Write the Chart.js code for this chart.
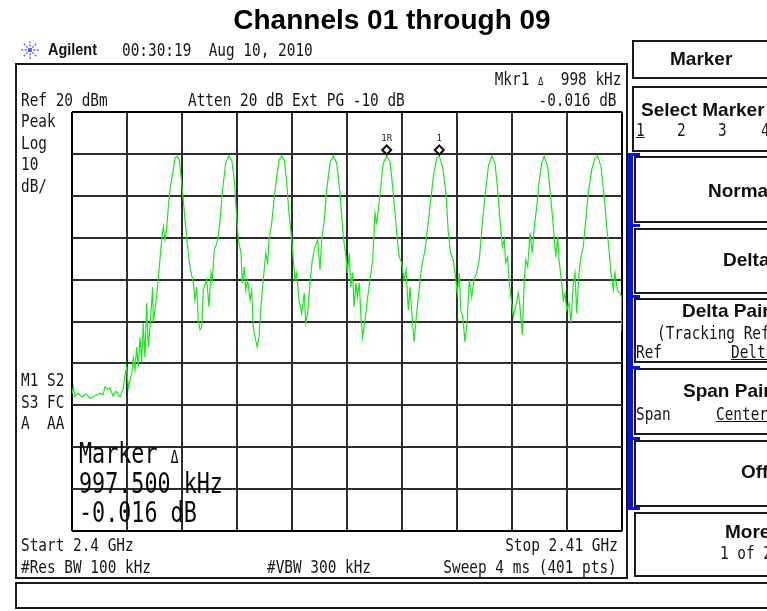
<!DOCTYPE html>
<html><head><meta charset="utf-8">
<script src="https://cdn.jsdelivr.net/npm/chart.js@4.4.1/dist/chart.umd.min.js"></script>
<style>
html,body{margin:0;padding:0;background:#fff;}
body{width:767px;height:611px;overflow:hidden;position:relative;}
canvas{position:absolute;left:0;top:0;}
.t{position:absolute;white-space:pre;font-family:"DejaVu Sans Mono",monospace;font-size:18px;line-height:18px;color:#151515;transform-origin:0 0;transform:scaleX(0.8);}
.tr{transform-origin:100% 0;}
.big{font-size:27.5px;line-height:27.5px;transform:scaleX(0.79);color:#0a0a0a;}
.d{font-size:62%;}
.b{position:absolute;white-space:pre;font-family:"Liberation Sans",Arial,sans-serif;font-weight:bold;font-size:19px;line-height:19px;color:#111;}
.u{text-decoration:underline;}
.box{position:absolute;border:2px solid #1a1a1a;box-sizing:border-box;}
.blue{position:absolute;background:#0a14e6;}
</style></head>
<body>
<canvas id="c" width="767" height="611"></canvas>

<div class="b" style="left:0;width:784px;text-align:center;top:5.6px;font-size:28px;line-height:28px;color:#000;">Channels 01 through 09</div>

<svg width="24" height="22" style="position:absolute;left:18px;top:39px" viewBox="0 0 24 22">
 <g stroke="#5a64ff" stroke-width="1.4" stroke-dasharray="2 1.4" fill="none">
  <line x1="12" y1="11" x2="12" y2="1"/><line x1="12" y1="11" x2="12" y2="21"/>
  <line x1="12" y1="11" x2="2" y2="11"/><line x1="12" y1="11" x2="22" y2="11"/>
  <line x1="12" y1="11" x2="5" y2="4"/><line x1="12" y1="11" x2="19" y2="18"/>
  <line x1="12" y1="11" x2="19" y2="4"/><line x1="12" y1="11" x2="5" y2="18"/>
 </g>
 <rect x="10" y="9" width="4" height="4" fill="#5a64ff"/>
</svg>
<div class="b" style="left:48px;top:41.2px;font-size:17px;line-height:17px;transform:scaleX(0.85);transform-origin:0 0;">Agilent</div>
<div class="t" style="left:122px;top:40.6px;">00:30:19  Aug 10, 2010</div>

<!-- main screen frame -->
<div class="box" style="left:15px;top:63px;width:613px;height:516px;"></div>
<div class="box" style="left:15px;top:582px;width:770px;height:27px;"></div>

<div class="t tr" style="right:146px;top:69.6px;">Mkr1 <span class="d">Δ</span>  998 kHz</div>
<div class="t" style="left:21px;top:91px;">Ref 20 dBm</div>
<div class="t" style="left:188px;top:91px;">Atten 20 dB Ext PG -10 dB</div>
<div class="t tr" style="right:150px;top:91px;">-0.016 dB</div>
<div class="t" style="left:21px;top:112.3px;">Peak</div>
<div class="t" style="left:21px;top:133.8px;">Log</div>
<div class="t" style="left:21px;top:155.3px;">10</div>
<div class="t" style="left:21px;top:176.8px;">dB/</div>
<div class="t" style="left:21px;top:371.3px;">M1 S2</div>
<div class="t" style="left:21px;top:392.8px;">S3 FC</div>
<div class="t" style="left:21px;top:413.8px;">A  AA</div>
<div class="t big" style="left:79px;top:439.7px;">Marker <span class="d">Δ</span></div>
<div class="t big" style="left:79px;top:469.7px;">997.500 kHz</div>
<div class="t big" style="left:79px;top:499.2px;">-0.016 dB</div>
<div class="t" style="left:21px;top:536.3px;">Start 2.4 GHz</div>
<div class="t tr" style="right:149px;top:536.3px;">Stop 2.41 GHz</div>
<div class="t" style="left:21px;top:557.8px;">#Res BW 100 kHz</div>
<div class="t" style="left:267px;top:557.8px;">#VBW 300 kHz</div>
<div class="t tr" style="right:150px;top:558px;">Sweep 4 ms (401 pts)</div>

<!-- softkey panel -->
<div class="box" style="left:632px;top:40px;width:160px;height:39px;"></div>
<div class="box" style="left:632px;top:86px;width:160px;height:66px;"></div>
<div class="box" style="left:634px;top:156px;width:160px;height:67px;"></div>
<div class="box" style="left:634px;top:228px;width:160px;height:66px;"></div>
<div class="box" style="left:634px;top:298px;width:160px;height:65px;"></div>
<div class="box" style="left:634px;top:368px;width:160px;height:67px;"></div>
<div class="box" style="left:634px;top:440px;width:160px;height:67px;"></div>
<div class="box" style="left:634px;top:512px;width:160px;height:65px;"></div>
<div class="blue" style="left:628px;top:153px;width:5px;height:357px;"></div>
<div class="blue" style="left:628px;top:153px;width:12px;height:3px;"></div>
<div class="blue" style="left:628px;top:224px;width:12px;height:3px;"></div>
<div class="blue" style="left:628px;top:295px;width:12px;height:3px;"></div>
<div class="blue" style="left:628px;top:366px;width:12px;height:3px;"></div>
<div class="blue" style="left:628px;top:437px;width:12px;height:3px;"></div>
<div class="blue" style="left:628px;top:507px;width:12px;height:3px;"></div>

<div class="b" style="left:670px;top:48.7px;">Marker</div>
<div class="b" style="left:641px;top:99.7px;">Select Marker</div>
<div class="t u" style="left:636px;top:121.3px;">1</div>
<div class="t" style="left:677px;top:121.3px;">2</div>
<div class="t" style="left:718px;top:121.3px;">3</div>
<div class="t" style="left:761px;top:121.3px;">4</div>
<div class="b" style="left:708px;top:180.7px;">Normal</div>
<div class="b" style="left:723px;top:250.2px;">Delta</div>
<div class="b" style="left:682px;top:301.2px;">Delta Pair</div>
<div class="t" style="left:657px;top:324.3px;">(Tracking Ref)</div>
<div class="t" style="left:636px;top:343.3px;">Ref</div>
<div class="t u" style="left:731px;top:343.3px;">Delta</div>
<div class="b" style="left:683px;top:381.2px;">Span Pair</div>
<div class="t" style="left:636px;top:405.3px;">Span</div>
<div class="t u" style="left:716px;top:405.3px;">Center</div>
<div class="b" style="left:741px;top:461.7px;">Off</div>
<div class="b" style="left:725px;top:521.7px;">More</div>
<div class="t" style="left:720px;top:544.3px;">1 of 2</div>

<script>
// Frequency axis (MHz) and reference-level axis (dBm)
const xTicks = [2400,2401,2402,2403,2404,2405,2406,2407,2408,2409,2410];
const yTicks = [20,10,0,-10,-20,-30,-40,-50,-60,-70,-80];

// Trace points
const freqMHz = [
2400.000,2400.024,2400.055,2400.109,2400.182,2400.255,2400.327,2400.418,2400.509,2400.564,
2400.600,2400.655,2400.691,2400.745,2400.800,2400.873,2400.933,2400.964,2400.995,2401.024,
2401.085,2401.115,2401.145,2401.176,2401.205,2401.236,2401.267,2401.296,2401.327,2401.358,
2401.387,2401.418,2401.467,2401.478,2401.509,2401.551,2401.587,2401.631,2401.660,2401.691,
2401.722,2401.751,2401.782,2401.831,2401.873,2401.915,2401.951,2401.995,2402.024,2402.055,
2402.096,2402.145,2402.205,2402.236,2402.267,2402.296,2402.327,2402.358,2402.387,2402.449,
2402.491,2402.527,2402.551,2402.587,2402.631,2402.660,2402.691,2402.722,2402.751,2402.795,
2402.855,2402.904,2402.951,2402.995,2403.024,2403.073,2403.096,2403.133,2403.158,2403.195,
2403.236,2403.267,2403.296,2403.327,2403.369,2403.400,2403.436,2403.478,2403.522,2403.558,
2403.582,2403.631,2403.678,2403.722,2403.764,2403.813,2403.860,2403.904,2403.945,2403.995,
2404.024,2404.055,2404.085,2404.127,2404.176,2404.224,2404.249,2404.285,2404.327,2404.369,
2404.418,2404.467,2404.509,2404.540,2404.587,2404.631,2404.691,2404.751,2404.813,2404.873,
2404.933,2404.982,2405.005,2405.042,2405.067,2405.104,2405.127,2405.164,2405.187,2405.224,
2405.249,2405.285,2405.327,2405.369,2405.418,2405.467,2405.509,2405.540,2405.569,2405.613,
2405.660,2405.722,2405.782,2405.831,2405.873,2405.915,2405.951,2405.995,2406.036,2406.073,
2406.115,2406.145,2406.176,2406.218,2406.267,2406.315,2406.358,2406.418,2406.460,2406.509,
2406.569,2406.631,2406.678,2406.740,2406.800,2406.842,2406.885,2406.933,2406.964,2407.005,
2407.042,2407.067,2407.104,2407.145,2407.187,2407.224,2407.267,2407.309,2407.358,2407.405,
2407.436,2407.478,2407.522,2407.569,2407.631,2407.691,2407.740,2407.782,2407.824,2407.860,
2407.885,2407.922,2407.945,2407.982,2408.024,2408.067,2408.115,2408.145,2408.187,2408.224,
2408.249,2408.285,2408.327,2408.369,2408.405,2408.449,2408.491,2408.540,2408.587,2408.649,
2408.709,2408.751,2408.795,2408.831,2408.855,2408.891,2408.933,2408.964,2408.995,2409.036,
2409.073,2409.115,2409.145,2409.176,2409.218,2409.255,2409.296,2409.340,2409.387,2409.449,
2409.509,2409.558,2409.618,2409.678,2409.722,2409.764,2409.800,2409.842,2409.873,2409.915,
2409.964,2409.995,2410.000];
const levelDbm = [
-47.3,-45.6,-48.0,-47.1,-48.0,-47.3,-48.3,-47.8,-47.1,-47.5,
-45.6,-46.3,-45.9,-47.8,-46.6,-48.0,-45.9,-42.8,-40.9,-45.9,
-42.4,-38.7,-41.6,-36.1,-40.9,-33.7,-39.7,-30.4,-38.5,-25.6,
-36.1,-31.3,-21.8,-30.1,-27.3,-22.5,-17.0,-10.5,-7.4,-10.5,
-7.7,-2.7,1.4,5.4,9.0,9.5,8.5,3.1,-1.0,-5.8,
-11.3,-17.0,-20.8,-24.9,-21.8,-29.6,-32.0,-31.3,-22.5,-20.1,
-26.5,-18.4,-20.1,-12.9,-11.3,-9.8,-5.8,-1.0,3.1,7.8,
9.5,8.5,3.8,-5.1,-10.5,-13.7,-20.8,-17.0,-22.5,-20.1,
-24.9,-22.5,-31.3,-33.7,-36.1,-33.7,-26.5,-20.1,-13.7,-16.0,
-10.5,-6.5,-0.3,4.5,8.5,9.5,8.5,3.1,-4.1,-10.5,
-15.3,-20.1,-18.4,-24.9,-28.0,-23.2,-30.4,-28.0,-20.8,-15.3,
-12.2,-10.5,-17.7,-10.5,-5.8,1.4,7.8,9.5,7.8,0.7,
-9.8,-14.6,-18.4,-13.7,-21.8,-18.4,-26.5,-20.8,-24.2,-20.8,
-28.0,-33.9,-29.6,-24.9,-20.1,-15.3,-4.1,-6.5,-3.4,2.1,
7.8,9.5,8.1,2.1,-4.1,-10.5,-14.6,-16.0,-20.1,-17.7,
-27.3,-21.8,-27.3,-34.9,-28.0,-21.8,-17.0,-12.9,-8.2,-2.7,
4.5,9.0,9.5,6.9,0.7,-8.9,-13.7,-15.3,-18.4,-23.2,
-18.4,-27.3,-28.9,-34.9,-29.6,-20.1,-24.2,-20.1,-18.4,-15.3,
-10.5,-4.1,1.4,6.9,9.5,7.8,1.4,-5.8,-12.2,-10.5,
-16.0,-14.6,-20.1,-24.2,-28.9,-26.5,-23.2,-26.5,-33.2,-20.1,
-15.3,-17.0,-8.9,-13.7,-7.4,-2.7,3.1,7.8,9.5,6.9,
-1.0,-7.4,-14.6,-9.8,-15.3,-19.4,-24.9,-23.2,-27.3,-25.6,
-30.1,-20.8,-18.4,-28.0,-18.4,-14.6,-12.2,-5.8,0.7,6.2,
9.0,9.5,6.9,-0.3,-7.4,-12.9,-18.4,-22.5,-18.4,-22.5,
-23.2,-24.2,-32.3];

// Marker positions (reference marker 1R and delta marker 1)
const markerLabels = ['1R','1'];
const markerFreq = [2405.722, 2406.678];
const markerLevel = [9.5, 9.5];

const n = Math.min(freqMHz.length, levelDbm.length);
const trace = [];
for (let i = 0; i < n; i++) trace.push({x: freqMHz[i], y: levelDbm[i]});

const markerPlugin = {
  id: 'markers',
  afterDatasetsDraw(chart) {
    const ctx = chart.ctx, xs = chart.scales.x, ys = chart.scales.y;
    ctx.save();
    for (let i = 0; i < markerFreq.length; i++) {
      const px = xs.getPixelForValue(markerFreq[i]);
      const py = ys.getPixelForValue(markerLevel[i]) - 6;
      const r = 4.5;
      ctx.beginPath();
      ctx.moveTo(px, py - r); ctx.lineTo(px + r, py); ctx.lineTo(px, py + r); ctx.lineTo(px - r, py);
      ctx.closePath();
      ctx.fillStyle = '#fff'; ctx.fill();
      ctx.lineWidth = 2; ctx.strokeStyle = '#111'; ctx.stroke();
      ctx.fillStyle = '#222';
      ctx.font = '9px "DejaVu Sans Mono", monospace';
      ctx.textAlign = 'center';
      ctx.textBaseline = 'alphabetic';
      ctx.fillText(markerLabels[i], px, py - 9);
    }
    ctx.restore();
  }
};

const gridColor = (ctx, count) => (ctx.index === 0 || ctx.index === count - 1) ? '#000' : '#2e2e2e';

new Chart(document.getElementById('c'), {
  type: 'line',
  data: { datasets: [{
    data: trace, borderColor: '#1ee61e', borderWidth: 1.2,
    pointRadius: 0, tension: 0, fill: false
  }]},
  options: {
    responsive: false, animation: false, events: [],
    layout: { padding: { left: 72, top: 112, right: 145, bottom: 80 } },
    plugins: { legend: { display: false }, tooltip: { enabled: false } },
    scales: {
      x: {
        type: 'linear', min: xTicks[0], max: xTicks[xTicks.length - 1],
        afterBuildTicks: s => { s.ticks = xTicks.map(v => ({ value: v })); },
        ticks: { display: false },
        grid: { drawTicks: false, lineWidth: 2, color: c => gridColor(c, xTicks.length) },
        border: { display: false }
      },
      y: {
        type: 'linear', min: yTicks[yTicks.length - 1], max: yTicks[0],
        afterBuildTicks: s => { s.ticks = yTicks.slice().reverse().map(v => ({ value: v })); },
        ticks: { display: false },
        grid: { drawTicks: false, lineWidth: 2, color: c => gridColor(c, yTicks.length) },
        border: { display: false }
      }
    }
  },
  plugins: [markerPlugin]
});
</script>
</body></html>
